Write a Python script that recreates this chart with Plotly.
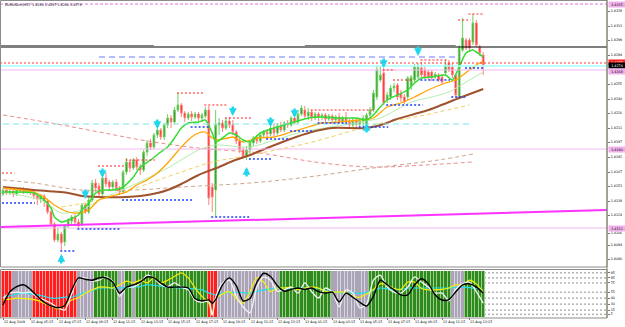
import plotly.graph_objects as go

# ---------------- data ----------------
TITLE = "EURUSDm,M15  1.4284 1.4287 1.4264 1.4274"

TIME_LABELS = ["12 Aug 2009", "12 Aug 05:15", "12 Aug 07:15", "12 Aug 09:15", "12 Aug 11:15",
               "12 Aug 13:15", "12 Aug 15:15", "12 Aug 17:15", "12 Aug 19:15", "12 Aug 21:15",
               "12 Aug 23:15", "13 Aug 01:15", "13 Aug 03:15", "13 Aug 05:15", "13 Aug 07:15",
               "13 Aug 09:15", "13 Aug 11:15", "13 Aug 13:15"]
TIME_LABEL_BARS = [0, 8, 16, 24, 32, 40, 48, 56, 64, 72, 80, 88, 96, 104, 112, 120, 128, 136]

PRICE_TICKS = [1.4328, 1.4313, 1.4299, 1.4284, 1.4255, 1.4240, 1.4226, 1.4211,
               1.4197, 1.4182, 1.4167, 1.4153, 1.4138, 1.4124, 1.4106, 1.4094, 1.4080]

OPEN = [1.4145, 1.4149, 1.4146, 1.4148, 1.4145, 1.4148, 1.4150, 1.4147, 1.4149, 1.4146,
        1.4143, 1.4140, 1.4143, 1.4138, 1.4127, 1.4115, 1.4099, 1.4105, 1.4097, 1.4113,
        1.4118, 1.4122, 1.4117, 1.4115, 1.4134, 1.4127, 1.4139, 1.4156, 1.4153, 1.4145,
        1.4161, 1.4157, 1.4152, 1.4157, 1.4151, 1.4147, 1.4167, 1.4177, 1.4171, 1.4179,
        1.4172, 1.4169, 1.4187, 1.4196, 1.4192, 1.4204, 1.4209, 1.4202, 1.4214, 1.4221,
        1.4217, 1.4229, 1.4234, 1.4226, 1.4221, 1.4225, 1.4222, 1.4225, 1.4221, 1.4223,
        1.4229, 1.4152, 1.4149, 1.4214, 1.4216, 1.4211, 1.4218, 1.4214, 1.4207, 1.4198,
        1.4189, 1.4182, 1.4189, 1.4196, 1.4201, 1.4198, 1.4204, 1.4207, 1.4205, 1.4211,
        1.4206, 1.4213, 1.4209, 1.4216, 1.4214, 1.4221, 1.4217, 1.4225, 1.4229, 1.4223,
        1.4227, 1.4221, 1.4225, 1.4222, 1.4224, 1.4220, 1.4223, 1.4219, 1.4222, 1.4218,
        1.4221, 1.4217, 1.4214, 1.4219, 1.4215, 1.4217, 1.4215, 1.4224, 1.4229, 1.4242,
        1.4259, 1.4266, 1.4239, 1.4242, 1.4251, 1.4254, 1.4246, 1.4242, 1.4242, 1.4253,
        1.4259, 1.4262, 1.4271, 1.4269, 1.4267, 1.4267, 1.4262, 1.4264, 1.4262, 1.4266,
        1.4276, 1.4272, 1.4264, 1.4242, 1.4289, 1.4299, 1.4299, 1.4297, 1.4316, 1.4292,
        1.4284]
HIGH = [1.4151, 1.4151, 1.4150, 1.4149, 1.4151, 1.4152, 1.4152, 1.4151, 1.4150, 1.4148,
        1.4146, 1.4145, 1.4145, 1.4140, 1.4129, 1.4117, 1.4111, 1.4107, 1.4115, 1.4121,
        1.4124, 1.4125, 1.4120, 1.4136, 1.4136, 1.4142, 1.4159, 1.4160, 1.4156, 1.4163,
        1.4167, 1.4159, 1.4159, 1.4160, 1.4153, 1.4169, 1.4181, 1.4179, 1.4181, 1.4182,
        1.4175, 1.4189, 1.4199, 1.4200, 1.4206, 1.4214, 1.4211, 1.4216, 1.4225, 1.4224,
        1.4232, 1.4246, 1.4236, 1.4228, 1.4227, 1.4228, 1.4227, 1.4227, 1.4226, 1.4232,
        1.4233, 1.4156, 1.4229, 1.4221, 1.4219, 1.4221, 1.4222, 1.4219, 1.4209, 1.4201,
        1.4192, 1.4193, 1.4198, 1.4203, 1.4204, 1.4206, 1.4209, 1.4210, 1.4213, 1.4215,
        1.4216, 1.4217, 1.4218, 1.4219, 1.4223, 1.4226, 1.4229, 1.4234, 1.4233, 1.4231,
        1.4229, 1.4227, 1.4227, 1.4226, 1.4226, 1.4225, 1.4225, 1.4224, 1.4226, 1.4223,
        1.4227, 1.4220, 1.4221, 1.4221, 1.4221, 1.4224, 1.4226, 1.4232, 1.4249, 1.4274,
        1.4273, 1.4271, 1.4247, 1.4254, 1.4256, 1.4256, 1.4249, 1.4245, 1.4263, 1.4264,
        1.4275, 1.4276, 1.4277, 1.4272, 1.4269, 1.4269, 1.4267, 1.4266, 1.4265, 1.4279,
        1.4279, 1.4276, 1.4266, 1.4294, 1.4321, 1.4301, 1.4301, 1.4325, 1.4319, 1.4294,
        1.4287]
LOW = [1.4143, 1.4144, 1.4144, 1.4142, 1.4143, 1.4146, 1.4145, 1.4145, 1.4144, 1.4140,
       1.4134, 1.4136, 1.4132, 1.4125, 1.4113, 1.4097, 1.4097, 1.4089, 1.4093, 1.4111,
       1.4115, 1.4113, 1.4110, 1.4113, 1.4125, 1.4125, 1.4137, 1.4147, 1.4143, 1.4143,
       1.4152, 1.4149, 1.4149, 1.4149, 1.4144, 1.4145, 1.4164, 1.4167, 1.4169, 1.4169,
       1.4164, 1.4167, 1.4183, 1.4189, 1.4190, 1.4201, 1.4199, 1.4199, 1.4211, 1.4211,
       1.4215, 1.4227, 1.4222, 1.4217, 1.4219, 1.4218, 1.4220, 1.4218, 1.4217, 1.4221,
       1.4134, 1.4127, 1.4122, 1.4204, 1.4207, 1.4209, 1.4211, 1.4204, 1.4195, 1.4186,
       1.4180, 1.4179, 1.4185, 1.4193, 1.4195, 1.4196, 1.4201, 1.4202, 1.4203, 1.4203,
       1.4204, 1.4207, 1.4207, 1.4211, 1.4212, 1.4215, 1.4215, 1.4223, 1.4221, 1.4219,
       1.4218, 1.4219, 1.4218, 1.4219, 1.4217, 1.4218, 1.4215, 1.4217, 1.4215, 1.4215,
       1.4214, 1.4212, 1.4212, 1.4211, 1.4213, 1.4212, 1.4212, 1.4221, 1.4227, 1.4239,
       1.4257, 1.4234, 1.4236, 1.4239, 1.4247, 1.4239, 1.4237, 1.4235, 1.4239, 1.4249,
       1.4257, 1.4260, 1.4262, 1.4260, 1.4259, 1.4258, 1.4260, 1.4257, 1.4255, 1.4264,
       1.4267, 1.4261, 1.4241, 1.4241, 1.4287, 1.4289, 1.4287, 1.4294, 1.4292, 1.4283,
       1.4264]
CLOSE = [1.4149, 1.4146, 1.4148, 1.4145, 1.4149, 1.4150, 1.4147, 1.4149, 1.4146, 1.4143,
         1.4140, 1.4143, 1.4138, 1.4127, 1.4115, 1.4099, 1.4105, 1.4096, 1.4113, 1.4119,
         1.4122, 1.4117, 1.4113, 1.4134, 1.4127, 1.4139, 1.4156, 1.4151, 1.4145, 1.4161,
         1.4155, 1.4152, 1.4157, 1.4151, 1.4147, 1.4167, 1.4177, 1.4171, 1.4179, 1.4172,
         1.4169, 1.4187, 1.4196, 1.4192, 1.4204, 1.4209, 1.4202, 1.4214, 1.4221, 1.4217,
         1.4229, 1.4234, 1.4226, 1.4221, 1.4225, 1.4222, 1.4225, 1.4221, 1.4224, 1.4229,
         1.4141, 1.4142, 1.4214, 1.4216, 1.4211, 1.4218, 1.4214, 1.4207, 1.4198, 1.4189,
         1.4182, 1.4189, 1.4196, 1.4201, 1.4198, 1.4204, 1.4207, 1.4205, 1.4211, 1.4206,
         1.4213, 1.4209, 1.4216, 1.4214, 1.4221, 1.4217, 1.4225, 1.4231, 1.4223, 1.4227,
         1.4221, 1.4225, 1.4222, 1.4224, 1.4220, 1.4223, 1.4219, 1.4222, 1.4218, 1.4221,
         1.4217, 1.4214, 1.4219, 1.4215, 1.4218, 1.4221, 1.4224, 1.4229, 1.4246, 1.4269,
         1.4264, 1.4236, 1.4244, 1.4251, 1.4253, 1.4242, 1.4241, 1.4237, 1.4261, 1.4262,
         1.4272, 1.4272, 1.4264, 1.4262, 1.4262, 1.4261, 1.4265, 1.4259, 1.4257, 1.4274,
         1.4269, 1.4264, 1.4244, 1.4291, 1.4301, 1.4291, 1.4291, 1.4316, 1.4294, 1.4286,
         1.4274]

# moving averages (sampled along the curves)
MA_FAST_X = [0, 9, 12, 14, 15, 17, 19, 22, 23, 25, 27, 29, 32, 35, 38, 40, 43, 46, 48, 50, 52, 54,
             57, 59, 61, 62, 64, 66, 68, 70, 72, 75, 79, 84, 89, 93, 98, 103, 106, 108, 110, 112,
             115, 118, 120, 122, 125, 129, 131, 133, 135, 137, 138, 140]
MA_FAST = [1.4147, 1.4146, 1.4139, 1.4131, 1.4122, 1.4117, 1.4119, 1.4124, 1.4129, 1.4136, 1.4146,
           1.4149, 1.4149, 1.4152, 1.4162, 1.4172, 1.4179, 1.4187, 1.4192, 1.4201, 1.4211, 1.4216,
           1.4217, 1.4219, 1.4206, 1.4197, 1.4201, 1.4206, 1.4204, 1.4199, 1.4197, 1.4206, 1.4211,
           1.4216, 1.4221, 1.4222, 1.4221, 1.4221, 1.4219, 1.4224, 1.4232, 1.4239, 1.4244, 1.4249,
           1.4256, 1.4261, 1.4262, 1.4264, 1.4259, 1.4272, 1.4286, 1.4289, 1.4287, 1.4282]
MA_PALE_X = [0, 11, 17, 23, 28, 38, 48, 57, 62, 72, 87, 101, 110, 119, 125, 130, 136, 140]
MA_PALE = [1.4147, 1.4139, 1.4126, 1.4129, 1.4139, 1.4154, 1.4171, 1.4189, 1.4194, 1.4192,
           1.4207, 1.4215, 1.4221, 1.4237, 1.4242, 1.4247, 1.4259, 1.4267]
MA_ORANGE_X = [0, 9, 12, 15, 19, 22, 25, 28, 33, 36, 39, 42, 45, 48, 52, 55, 57, 59, 61, 63, 67,
               70, 74, 79, 84, 89, 93, 98, 104, 108, 112, 116, 120, 124, 129, 132, 136, 139, 140]
MA_ORANGE = [1.4151, 1.4147, 1.4142, 1.4134, 1.4127, 1.4126, 1.4129, 1.4139, 1.4144, 1.4147,
             1.4154, 1.4159, 1.4166, 1.4176, 1.4192, 1.4202, 1.4206, 1.4207, 1.4201, 1.4199,
             1.4202, 1.4197, 1.4201, 1.4202, 1.4207, 1.4212, 1.4216, 1.4217, 1.4219, 1.4221,
             1.4232, 1.4236, 1.4242, 1.4249, 1.4256, 1.4259, 1.4269, 1.4276, 1.4277]
MA_SLOW_X = [0, 9, 19, 23, 28, 36, 40, 45, 48, 52, 57, 63, 67, 72, 77, 83, 90, 96, 106, 112, 114,
             120, 124, 133, 140]
MA_SLOW = [1.4152, 1.4149, 1.4146, 1.4143, 1.4142, 1.4142, 1.4143, 1.4146, 1.4149, 1.4155, 1.4164,
           1.4172, 1.4178, 1.4184, 1.4191, 1.4199, 1.4207, 1.4211, 1.4211, 1.4216, 1.4219, 1.4225,
           1.4229, 1.4241, 1.4250]
DASH_RED_X = [0, 14, 28, 42, 57, 72, 75, 93, 108, 123, 137]
DASH_RED = [1.4224, 1.4216, 1.4207, 1.4198, 1.4191, 1.4187, 1.4186, 1.4176, 1.4172, 1.4174, 1.4177]
DASH_TAN_X = [0, 9, 23, 38, 52, 72, 89, 108, 127, 137]
DASH_TAN = [1.4159, 1.4156, 1.4149, 1.4149, 1.4152, 1.4156, 1.4162, 1.4171, 1.4179, 1.4185]
DASH_YEL_X = [17, 28, 37, 52, 61, 69, 89, 108, 123, 136]
DASH_YEL = [1.4132, 1.4139, 1.4149, 1.4167, 1.4177, 1.4182, 1.4196, 1.4214, 1.4224, 1.4234]

# horizontal levels
LVL_TOP_PINK = 1.4335
LVL_BLACK = 1.4292
LVL_GRAY = 1.4293
GRAY_SEG_START = [-1, 88]
GRAY_SEG_END = [44, 132]
LVL_ASK = 1.4276
LVL_CYAN = 1.4273
LVL_PINK = [1.4269, 1.4190, 1.4111]
LVL_BLUE_DASH = 1.4282
BLUE_DASH_RANGE = [28, 132]
LVL_CYAN_DASH = 1.4215
CYAN_DASH_RANGE = [0, 137]
TREND_BARS = [-0.9, 176.1]
TREND_PRICES = [1.4112, 1.4129]

# fractal-style dotted markers
RES_START = [0, 28, 36, 51, 59, 65, 90, 111, 114, 122, 133, 136]
RES_END = [3, 35, 44, 58, 65, 72, 108, 114, 119, 129, 136, 140]
RES_PRICE = [1.4166, 1.4173, 1.4179, 1.4246, 1.4234, 1.4221, 1.4229, 1.4269, 1.4259, 1.4279, 1.4319, 1.4325]
SUP_START = [0, 17, 22, 35, 55, 61, 72, 77, 84, 92, 104, 112, 122, 131, 135]
SUP_END = [9, 21, 34, 55, 60, 72, 78, 83, 90, 100, 112, 122, 130, 135, 140]
SUP_PRICE = [1.4136, 1.4088, 1.4110, 1.4139, 1.4212, 1.4122, 1.4180, 1.4200, 1.4208, 1.4216,
             1.4212, 1.4234, 1.4259, 1.4242, 1.4271]

# signal arrows (tip positions)
UP_BARS = [17, 71, 106]
UP_PRICES = [1.4085, 1.4172, 1.4216]
DOWN_BARS = [24, 29, 45, 67, 78, 85, 111, 121]
DOWN_PRICES = [1.4140, 1.4161, 1.4210, 1.4223, 1.4212, 1.4221, 1.4271, 1.4283]

# price tags on the right axis
TAG_PRICES = [1.4335, 1.4277, 1.4274, 1.4268, 1.4190, 1.4111]
TAG_TEXTS = ["1.4335", "1.4277", "1.4274", "1.4268", "1.4190", "1.4111"]
TAG_BG = ["#f0b0ec", "#ff2020", "#000000", "#f0b0ec", "#f0b0ec", "#f0b0ec"]
TAG_FG = ["#000000", "#ffffff", "#ffffff", "#000000", "#000000", "#000000"]

# sub-window oscillator
STATE = ("RRR SSSSSS RRRRRRRRRRRRR SSSSS GGGGGGG SS GG S GGGGGGGGGGGGGGGGGGGGG RRR "
         "SSSSSSSSSSSSSSSSSS GGGGGGGGGGGGGGG SSSSSSSSSSS GGGGGGGGGGGGGGGGGGGGGGGG SSSS GGGGGG").replace(" ", "")
SUB_X = list(range(0, 61, 2)) + [61] + list(range(62, 141, 2))
SUB_BLACK = [26, 55, 66, 70, 60, 45, 32, 24, 20, 25, 58, 85, 82, 80, 85, 85, 76, 52, 65, 70, 76, 87, 85, 74,
             65, 65, 65, 63, 40, 35, 37, 30,
             38, 70, 85, 68, 35, 40, 75, 95, 88, 68, 56, 60, 63, 60, 63, 55, 52, 54, 33, 52, 43, 32, 24,
             45, 80, 70, 59, 48, 48, 70, 83, 72, 48, 37, 38, 55, 70, 72, 65, 52]
SUB_WHITE = [41, 52, 54, 52, 54, 43, 37, 30, 20, 15, 50, 85, 85, 78, 80, 87, 78, 45, 65, 65, 74, 91, 85, 70,
             66, 74, 65, 59, 37, 32, 35, 4,
             43, 74, 80, 45, 22, 9, 65, 87, 80, 56, 59, 65, 52, 74, 55, 41, 63, 54, 22, 59, 52, 20, 28,
             80, 91, 65, 54, 52, 65, 87, 76, 65, 52, 52, 35, 60, 72, 76, 55, 30]
SUB_YELLOW = [37, 39, 41, 40, 39, 36, 30, 24, 18, 26, 37, 42, 52, 59, 65, 65, 63, 70, 78, 74, 80, 74, 85, 74,
              80, 88, 96, 85, 63, 45, 30, 4,
              40, 50, 55, 40, 30, 55, 85, 76, 55, 63, 63, 65, 59, 63, 65, 63, 56, 54, 54, 54, 45, 43, 50,
              60, 72, 70, 62, 60, 76, 76, 62, 59, 59, 60, 63, 70, 70, 80, 72, 54]
SUB_CYAN = [43, 46, 50, 52, 50, 48, 45, 41, 41, 43, 43, 48, 54, 57, 63, 63, 63, 63, 64, 65, 66, 70, 69, 67,
            65, 64, 63, 62, 61, 59, 52, 50,
            48, 52, 53, 54, 53, 52, 55, 59, 61, 63, 63, 63, 63, 63, 63, 62, 58, 54, 53, 52, 52, 52, 53,
            58, 63, 61, 59, 60, 63, 63, 63, 63, 63, 63, 63, 64, 65, 64, 62, 59]
SUB_LEVELS = [96, 85, 74, 54, 41, 28, 15, 6]
SUB_LEVEL_TEXT = ["95", "85", "75", "55", "40", "30", "15", "5"]

# ---------------- layout geometry (pixels) ----------------
W, H = 625, 327
RIGHT = 607
MAIN_TOP, MAIN_BOT = 0, 267
SUB_TOP, SUB_BOT = 271, 317
BAR0_PX, BAR_STEP = 3.0, 3.43
X_RANGE = [(0 - BAR0_PX) / BAR_STEP, (RIGHT - BAR0_PX) / BAR_STEP]
Y_RANGE = [1.4072, 1.4339]


def py(p):
    return 1 - p / H


FONT = "DejaVu Sans"
SMALL = 3.3
bars = list(range(len(OPEN)))

fig = go.Figure()

# sub-window state columns (light underlay + solid column)
COLMAP = {"R": "#ff1e1e", "G": "#2f8a1e", "S": "#aaa4b6"}
TINT = {"R": "#ff9a9a", "G": "#9ccc8c", "S": "#d8d4e0"}
fig.add_trace(go.Bar(x=bars, y=[100] * len(STATE), marker=dict(color=[TINT[s] for s in STATE], line=dict(width=0)),
                     width=1.0, xaxis="x2", yaxis="y2", hoverinfo="skip"))
fig.add_trace(go.Bar(x=bars, y=[100] * len(STATE), marker=dict(color=[COLMAP[s] for s in STATE], line=dict(width=0)),
                     width=0.72, xaxis="x2", yaxis="y2", hoverinfo="skip"))
for vals, col, wd in [(SUB_CYAN, "#22e0f0", 1.2), (SUB_YELLOW, "#f8f000", 1.2),
                      (SUB_WHITE, "#f4f4f4", 1.3), (SUB_BLACK, "#000000", 1.4)]:
    fig.add_trace(go.Scatter(x=SUB_X, y=vals, mode="lines", xaxis="x2", yaxis="y2",
                             line=dict(color=col, width=wd, shape="spline", smoothing=0.7), hoverinfo="skip"))

# dashed long MAs
for xs, ys, col in [(DASH_RED_X, DASH_RED, "#f08a8a"), (DASH_TAN_X, DASH_TAN, "#cfa58a"),
                    (DASH_YEL_X, DASH_YEL, "#f0d060")]:
    fig.add_trace(go.Scatter(x=xs, y=ys, mode="lines", line=dict(color=col, width=1, dash="4px,3px", shape="spline"),
                             hoverinfo="skip"))

# candles
fig.add_trace(go.Candlestick(x=bars, open=OPEN, high=HIGH, low=LOW, close=CLOSE,
                             increasing=dict(fillcolor="#2e8b2e", line=dict(color="#6fd05f", width=1)),
                             decreasing=dict(fillcolor="#ff1a1a", line=dict(color="#ff8080", width=1)),
                             whiskerwidth=0, hoverinfo="skip"))

# moving averages
for xs, ys, col, wd in [(MA_PALE_X, MA_PALE, "#b4ecac", 1.0), (MA_SLOW_X, MA_SLOW, "#a0522d", 2.0),
                        (MA_ORANGE_X, MA_ORANGE, "#ffa500", 1.3), (MA_FAST_X, MA_FAST, "#33dd33", 1.5)]:
    fig.add_trace(go.Scatter(x=xs, y=ys, mode="lines", line=dict(color=col, width=wd, shape="spline", smoothing=0.6),
                             hoverinfo="skip"))

shapes = []
XR = RIGHT / W


def hline(y, col, wd=1, dash="solid", x0=0, x1=XR, xref="paper", yref="y", layer="above"):
    shapes.append(dict(type="line", xref=xref, yref=yref, x0=x0, x1=x1, y0=y, y1=y,
                       line=dict(color=col, width=wd, dash=dash), layer=layer))


hline(LVL_TOP_PINK, "#e070e0", 1, "3px,2px")
hline(LVL_BLACK, "#000000", 1.2)
for s, e in zip(GRAY_SEG_START, GRAY_SEG_END):
    hline(LVL_GRAY, "#808080", 2, x0=s, x1=e, xref="x")
hline(LVL_BLUE_DASH, "#6b78ff", 1, "6px,4px", x0=BLUE_DASH_RANGE[0], x1=BLUE_DASH_RANGE[1], xref="x")
hline(LVL_CYAN_DASH, "#7fe6e6", 1, "6px,4px", x0=CYAN_DASH_RANGE[0], x1=CYAN_DASH_RANGE[1], xref="x")
for p in LVL_PINK:
    hline(p, "#f3b8ef", 1)
hline(LVL_CYAN, "#a8ffff", 1.5)
hline(LVL_ASK, "#ff3030", 1, "2px,2px")
shapes.append(dict(type="line", xref="x", yref="y", x0=TREND_BARS[0], x1=TREND_BARS[1],
                   y0=TREND_PRICES[0], y1=TREND_PRICES[1], line=dict(color="#ff33ff", width=2)))
for s, e, p in zip(RES_START, RES_END, RES_PRICE):
    hline(p, "#ff2020", 1.2, "2px,2px", x0=s - 0.3, x1=e + 0.3, xref="x")
for s, e, p in zip(SUP_START, SUP_END, SUP_PRICE):
    hline(p, "#2040ff", 1.5, "2px,2px", x0=s - 0.3, x1=e + 0.3, xref="x")
for lv in SUB_LEVELS:
    hline(lv, "#909090", 1, "2px,2px", yref="y2", layer="below")

# panel frames
shapes.append(dict(type="rect", xref="paper", yref="paper", x0=0.5 / W, x1=XR, y0=py(MAIN_BOT), y1=py(0.5),
                   line=dict(color="#8c8c8c", width=1)))
shapes.append(dict(type="rect", xref="paper", yref="paper", x0=0.5 / W, x1=XR, y0=py(SUB_BOT + 1), y1=py(SUB_TOP - 1.5),
                   line=dict(color="#8c8c8c", width=1)))
shapes.append(dict(type="line", xref="paper", yref="paper", x0=XR, x1=XR, y0=py(SUB_BOT + 1), y1=1,
                   line=dict(color="#7d8064", width=1)))

ann = []
for b, p in zip(UP_BARS, UP_PRICES):
    ann.append(dict(x=b, y=p, xref="x", yref="y", ax=0, ay=11, text="", showarrow=True, arrowhead=2,
                    arrowsize=0.65, arrowwidth=2.4, arrowcolor="#1fd6ec"))
for b, p in zip(DOWN_BARS, DOWN_PRICES):
    ann.append(dict(x=b, y=p, xref="x", yref="y", ax=0, ay=-11, text="", showarrow=True, arrowhead=2,
                    arrowsize=0.65, arrowwidth=2.4, arrowcolor="#1fd6ec"))
for p, t, bg, fg in zip(TAG_PRICES, TAG_TEXTS, TAG_BG, TAG_FG):
    ann.append(dict(x=XR + 1 / W, y=p, xref="paper", yref="y", xanchor="left", yanchor="middle", text=t,
                    showarrow=False, bgcolor=bg, font=dict(family=FONT, size=SMALL, color=fg), borderpad=0.5,
                    width=15, height=4))
for b, t in zip(TIME_LABEL_BARS, TIME_LABELS):
    ann.append(dict(x=b - 0.4, y=py(322), xref="x2", yref="paper", xanchor="left", yanchor="middle", text=t,
                    showarrow=False, font=dict(family=FONT, size=SMALL, color="#000000")))
ann.append(dict(x=3 / W, y=py(5), xref="paper", yref="paper", xanchor="left", yanchor="middle", text=TITLE,
                showarrow=False, font=dict(family=FONT, size=SMALL, color="#000000")))

axis_common = dict(showgrid=False, zeroline=False, fixedrange=True)
fig.update_layout(
    width=W, height=H, margin=dict(l=0, r=0, t=0, b=0), autosize=False,
    paper_bgcolor="#ffffff", plot_bgcolor="#ffffff", showlegend=False, bargap=0, barmode="overlay",
    xaxis=dict(domain=[0, XR], range=X_RANGE, anchor="y", showticklabels=False, rangeslider=dict(visible=False),
               **axis_common),
    yaxis=dict(domain=[py(MAIN_BOT), 1], range=Y_RANGE, anchor="x", side="right", tickvals=PRICE_TICKS,
               ticktext=[f"{v:.4f}" for v in PRICE_TICKS], ticks="outside", ticklen=2, tickcolor="#777777",
               tickfont=dict(family=FONT, size=SMALL, color="#000000"), **axis_common),
    xaxis2=dict(domain=[0, XR], range=X_RANGE, anchor="y2", showticklabels=False, tickvals=TIME_LABEL_BARS,
                ticks="outside", ticklen=2, tickcolor="#777777", **axis_common),
    yaxis2=dict(domain=[py(SUB_BOT), py(SUB_TOP)], range=[0, 100], anchor="x2", side="right",
                tickvals=SUB_LEVELS, ticktext=SUB_LEVEL_TEXT, ticks="outside", ticklen=2, tickcolor="#777777",
                tickfont=dict(family=FONT, size=SMALL, color="#000000"), **axis_common),
    shapes=shapes, annotations=ann,
)

fig.write_html("out.html", config={"staticPlot": True})
